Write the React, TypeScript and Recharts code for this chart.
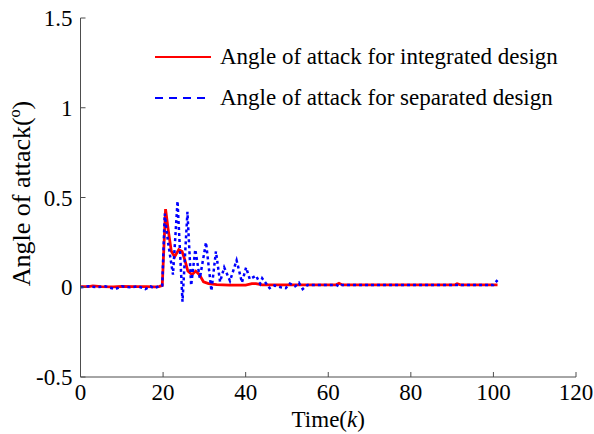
import React from 'react';
import { LineChart, Line, XAxis, YAxis, Legend, Label } from 'recharts';

const FONT = '"Liberation Serif", "Times New Roman", serif';
const AXIS_COLOR = '#4d4d4d';
const FONT_SIZE = 23;

// integrated design (red, solid)
const intK = [0, 2, 3, 5, 8, 10, 13, 16, 18, 19, 19.8, 20.6, 21.3, 22.0, 22.8, 23.8, 24.6, 25.3, 26.0, 27.0, 27.9, 28.8, 29.8, 31, 33, 36, 40, 41.5, 42.5, 44, 50, 55, 61.8, 62.6, 63.4, 70, 80, 90.6, 91.2, 92, 101];
const intAlpha = [0.004, 0.004, 0.008, 0.004, 0.002, 0.005, 0.003, 0.004, 0.002, 0.004, 0.01, 0.435, 0.31, 0.2, 0.17, 0.21, 0.2, 0.15, 0.09, 0.07, 0.09, 0.07, 0.03, 0.02, 0.015, 0.012, 0.012, 0.02, 0.02, 0.013, 0.013, 0.013, 0.013, 0.022, 0.013, 0.013, 0.013, 0.013, 0.02, 0.013, 0.013];

// separated design (blue, dashed)
const sepK = [0, 2, 4, 6, 8.4, 10, 12, 14, 15.7, 17, 17.8, 19, 19.8, 20.4, 21.2, 22.4, 23.5, 24.7, 25.9, 26.8, 27.8, 28.9, 30.4, 31.7, 32.8, 33.8, 34.8, 36.2, 37.8, 39.1, 40.1, 41, 42.5, 43.5, 44, 45.8, 47, 48.5, 49.7, 50.7, 52, 52.9, 53.8, 55, 62, 62.6, 63.2, 70, 80, 90, 100, 101];
const sepAlpha = [0, 0.005, 0, 0.005, -0.01, 0.005, 0, 0.005, -0.01, 0.005, -0.005, 0.005, 0.01, 0.41, 0.25, 0.07, 0.48, -0.08, 0.42, 0.01, 0.21, 0.05, 0.25, -0.02, 0.2, 0.03, 0.11, 0.035, 0.15, 0.026, 0.11, 0.045, 0.065, 0.02, 0.05, -0.005, 0.01, 0, -0.005, 0.02, 0.005, 0.025, -0.01, 0.013, 0.013, 0.005, 0.013, 0.013, 0.013, 0.013, 0.013, 0.04];

const xTicks = [0, 20, 40, 60, 80, 100, 120];
const yTicks = [-0.5, 0, 0.5, 1, 1.5];

const seriesNames = ['Angle of attack for integrated design', 'Angle of attack for separated design'];

const integratedData = intK.map((k, i) => ({ k, alpha: intAlpha[i] }));
const separatedData = sepK.map((k, i) => ({ k, alpha: sepAlpha[i] }));

const legendDash: Record<string, string | undefined> = {
  [seriesNames[0]]: undefined,
  [seriesNames[1]]: '8 6',
};

const tickStyle = { fill: '#000', fontSize: FONT_SIZE, fontFamily: FONT };

const renderLegend = (props: any) => {
  const payload = props.payload || [];
  return (
    <div style={{ fontFamily: FONT, fontSize: FONT_SIZE, color: '#000' }}>
      {payload.map((entry: any) => (
        <div key={entry.value} style={{ display: 'flex', alignItems: 'center', height: 41 }}>
          <svg width={56} height={6} style={{ marginRight: 9 }}>
            <line x1={0} y1={3} x2={56} y2={3} stroke={entry.color} strokeWidth={2} strokeDasharray={legendDash[entry.value]} />
          </svg>
          <span style={{ whiteSpace: 'nowrap' }}>{entry.value}</span>
        </div>
      ))}
    </div>
  );
};

const renderXTitle = (props: any) => {
  const vb = props.viewBox;
  return (
    <text x={vb.x + vb.width / 2} y={vb.y + 50} textAnchor="middle" fontFamily={FONT} fontSize={FONT_SIZE} fill="#000">
      Time(<tspan fontStyle="italic">k</tspan>)
    </text>
  );
};

const renderYTitle = (props: any) => {
  const vb = props.viewBox;
  const cx = 30;
  const cy = vb.y + vb.height / 2 - 4;
  return (
    <text x={cx} y={cy} textAnchor="middle" fontFamily={FONT} fontSize={26} fill="#000" transform={`rotate(-90, ${cx}, ${cy})`}>
      Angle of attack(<tspan fontSize={16} dy={-10}>o</tspan><tspan dy={10}>)</tspan>
    </text>
  );
};

export default function App() {
  return (
    <div style={{ position: 'absolute', left: 0, top: 0, background: '#fff' }}>
      <LineChart width={594} height={434} margin={{ top: 18, right: 18, bottom: 17, left: 0 }}>
        <XAxis
          dataKey="k"
          type="number"
          domain={[0, 120]}
          ticks={xTicks}
          allowDataOverflow
          height={40}
          stroke={AXIS_COLOR}
          tickSize={-5}
          tickMargin={12}
          tick={tickStyle}
        >
          <Label content={renderXTitle} />
        </XAxis>
        <YAxis
          type="number"
          domain={[-0.5, 1.5]}
          ticks={yTicks}
          allowDataOverflow
          width={80.5}
          stroke={AXIS_COLOR}
          tickSize={-5}
          tickMargin={13}
          tick={tickStyle}
        >
          <Label content={renderYTitle} />
        </YAxis>
        <Legend
          layout="vertical"
          align="center"
          verticalAlign="middle"
          wrapperStyle={{ top: 36, left: 155, width: 430 }}
          content={renderLegend}
        />
        <Line
          data={integratedData}
          dataKey="alpha"
          name={seriesNames[0]}
          type="linear"
          stroke="#ff0000"
          strokeWidth={2.8}
          dot={false}
          isAnimationActive={false}
        />
        <Line
          data={separatedData}
          dataKey="alpha"
          name={seriesNames[1]}
          type="linear"
          stroke="#0000ff"
          strokeWidth={2.5}
          strokeDasharray="3 3"
          dot={false}
          isAnimationActive={false}
        />
      </LineChart>
    </div>
  );
}
